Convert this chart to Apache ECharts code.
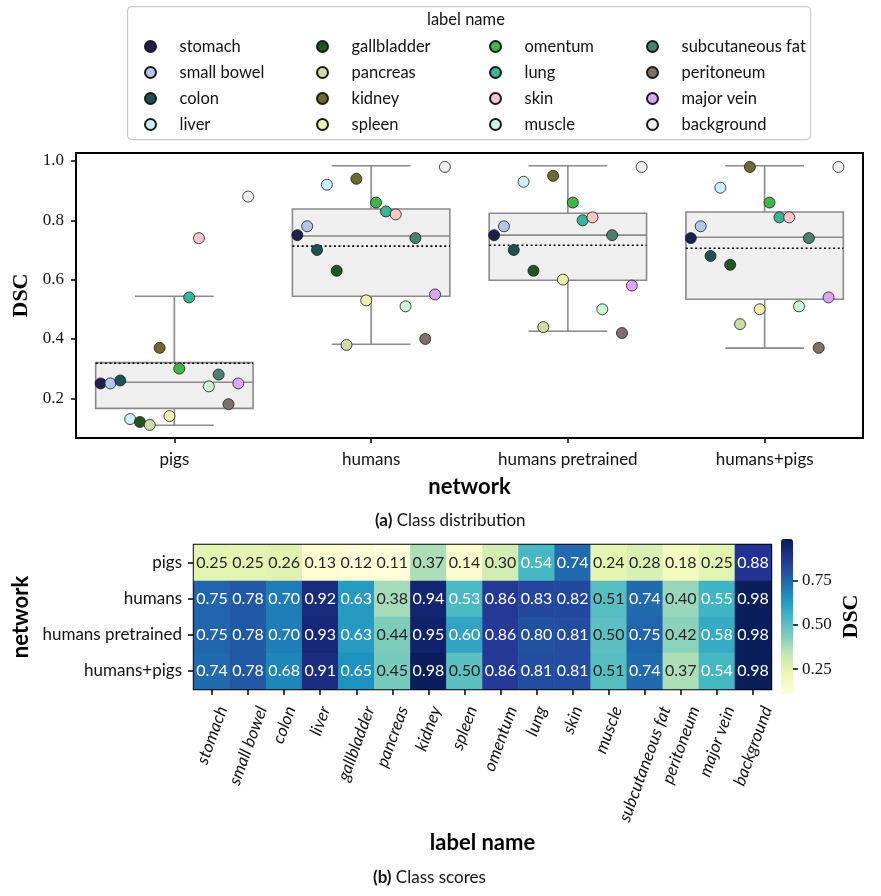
<!DOCTYPE html>
<html><head><meta charset="utf-8">
<script src="https://cdn.jsdelivr.net/npm/echarts@6/dist/echarts.min.js"></script>
<style>html,body{margin:0;padding:0;background:#fff}#c{width:881px;height:896px}</style>
</head><body><div id="c"></div>
<script>
const networks = ['pigs', 'humans', 'humans pretrained', 'humans+pigs'];
const labels = ['stomach', 'small bowel', 'colon', 'liver', 'gallbladder', 'pancreas', 'kidney', 'spleen',
  'omentum', 'lung', 'skin', 'muscle', 'subcutaneous fat', 'peritoneum', 'major vein', 'background'];
const labelColors = ['#1d1f4f', '#b3c6ea', '#1a5352', '#cbeefc', '#1f5722', '#cfdcaa', '#6b6a31', '#eeeeb0',
  '#40b54c', '#37b596', '#fbc6c6', '#cbf7d6', '#4b8070', '#80706a', '#d9a7ef', '#efefef'];
const dscPigs = [0.25, 0.25, 0.26, 0.13, 0.12, 0.11, 0.37, 0.14, 0.30, 0.54, 0.74, 0.24, 0.28, 0.18, 0.25, 0.88];
const dscHumans = [0.75, 0.78, 0.70, 0.92, 0.63, 0.38, 0.94, 0.53, 0.86, 0.83, 0.82, 0.51, 0.74, 0.40, 0.55, 0.98];
const dscHumansPretrained = [0.75, 0.78, 0.70, 0.93, 0.63, 0.44, 0.95, 0.60, 0.86, 0.80, 0.81, 0.50, 0.75, 0.42, 0.58, 0.98];
const dscHumansPigs = [0.74, 0.78, 0.68, 0.91, 0.65, 0.45, 0.98, 0.50, 0.86, 0.81, 0.81, 0.51, 0.74, 0.37, 0.54, 0.98];
const boxLow = [0.109, 0.382, 0.426, 0.369];
const boxQ1 = [0.166, 0.544, 0.598, 0.534];
const boxMedian = [0.254, 0.747, 0.750, 0.743];
const boxQ3 = [0.320, 0.838, 0.824, 0.828];
const boxHigh = [0.544, 0.984, 0.984, 0.984];
const boxMean = [0.318, 0.713, 0.716, 0.706];
const dscTicks = [0.2, 0.4, 0.6, 0.8, 1.0];
const colorbarTicks = [0.25, 0.5, 0.75];
const legendColumns = [
  ['stomach', 'small bowel', 'colon', 'liver'],
  ['gallbladder', 'pancreas', 'kidney', 'spleen'],
  ['omentum', 'lung', 'skin', 'muscle'],
  ['subcutaneous fat', 'peritoneum', 'major vein', 'background']
];

const SANS = 'Lato, "Noto Sans", sans-serif';
const SERIF = '"Liberation Serif", "DejaVu Serif", serif';
const dscByNetwork = [dscPigs, dscHumans, dscHumansPretrained, dscHumansPigs];
const ylgnbu = ['#ffffd9', '#edf8b1', '#c7e9b4', '#7fcdbb', '#41b6c4', '#1d91c0', '#225ea8', '#253494', '#081d58'];

// rotated tick labels of the heatmap: bounding box centred on the tick (matplotlib style)
const ROT_FONT = 'italic 17px Lato, "Noto Sans", sans-serif';
const measureCtx = document.createElement('canvas').getContext('2d');
measureCtx.font = ROT_FONT;
const ROT = 70 * Math.PI / 180;

const chart = echarts.init(document.getElementById('c'));

const series = [];
series.push({
  type: 'custom', name: 'box', xAxisIndex: 0, yAxisIndex: 0, z: 1, silent: true,
  data: networks.map((n, j) => [j, boxLow[j], boxQ1[j], boxMedian[j], boxQ3[j], boxHigh[j], boxMean[j]]),
  encode: { x: 0, y: [1, 2, 3, 4, 5, 6] },
  renderItem: function (params, api) {
    const j = api.value(0);
    const pt = v => api.coord([j, v]);
    const cx = pt(api.value(3))[0];
    const bw = api.size([1, 0])[0] * 0.8;
    const yL = pt(api.value(1))[1], yQ1 = pt(api.value(2))[1], yM = pt(api.value(3))[1];
    const yQ3 = pt(api.value(4))[1], yH = pt(api.value(5))[1], yMean = pt(api.value(6))[1];
    const grey = { stroke: '#8a8a8a', lineWidth: 1.6, fill: null };
    return {
      type: 'group', children: [
        { type: 'line', shape: { x1: cx, y1: yQ1, x2: cx, y2: yL }, style: grey },
        { type: 'line', shape: { x1: cx, y1: yQ3, x2: cx, y2: yH }, style: grey },
        { type: 'line', shape: { x1: cx - bw / 4, y1: yL, x2: cx + bw / 4, y2: yL }, style: grey },
        { type: 'line', shape: { x1: cx - bw / 4, y1: yH, x2: cx + bw / 4, y2: yH }, style: grey },
        { type: 'rect', shape: { x: cx - bw / 2, y: yQ3, width: bw, height: yQ1 - yQ3 }, style: { fill: '#efefef', stroke: '#8a8a8a', lineWidth: 1.6 } },
        { type: 'line', shape: { x1: cx - bw / 2, y1: yM, x2: cx + bw / 2, y2: yM }, style: grey },
        { type: 'line', shape: { x1: cx - bw / 2, y1: yMean, x2: cx + bw / 2, y2: yMean }, style: { stroke: '#000', lineWidth: 1.6, lineDash: [2, 2.6] } }
      ]
    };
  }
});

labels.forEach((lab, i) => {
  series.push({
    type: 'scatter', name: lab, xAxisIndex: 1, yAxisIndex: 0, z: 5,
    symbol: 'circle', symbolSize: 11,
    itemStyle: { color: labelColors[i], borderColor: '#1a1a1a', borderWidth: 0.8, opacity: 1 },
    data: dscByNetwork.map((row, j) => [j + (i - 7.5) * 0.05, row[i]])
  });
});

const heatData = [];
dscByNetwork.forEach((row, r) => row.forEach((v, c) => heatData.push({
  value: [c, r, v], label: { color: v >= 0.52 ? '#ffffff' : '#262626' }
})));
const heatIndex = series.length;
series.push({
  type: 'heatmap', xAxisIndex: 2, yAxisIndex: 1, data: heatData,
  label: { show: true, fontFamily: SANS, fontSize: 16, formatter: p => p.value[2].toFixed(2) },
  itemStyle: { borderWidth: 0 }, emphasis: { disabled: true }
});

// heatmap column labels, placed through the heatmap axes
series.push({
  type: 'custom', name: 'columnLabels', xAxisIndex: 2, yAxisIndex: 1, silent: true, clip: false, z: 3,
  data: labels.map((l, i) => [i, networks.length - 1]),
  encode: { x: 0, y: 1 },
  renderItem: function (params, api) {
    const i = api.value(0);
    const c = api.coord([i, api.value(1)]);
    const yBottom = c[1] + api.size([0, 1])[1] / 2;
    const text = labels[i];
    const L = measureCtx.measureText(text).width;
    return {
      type: 'text', x: c[0] + 0.5 * Math.cos(ROT) * L, y: yBottom + 18, rotation: ROT,
      style: { text: text, font: ROT_FONT, fill: '#111', align: 'right', verticalAlign: 'middle' }
    };
  }
});

const legends = legendColumns.map((col, k) => ({
  data: col, orient: 'vertical', left: [150, 322, 495, 652][k] - 11, top: 33,
  icon: 'circle', itemWidth: 48, itemHeight: 11, itemGap: 9,
  textStyle: { fontFamily: SANS, fontSize: 16.5, color: '#111', lineHeight: 16 },
  selectedMode: false
}));

chart.setOption({
  animation: false,
  textStyle: { fontFamily: SANS },
  grid: [
    { left: 76, top: 153, width: 787, height: 285, show: true, borderColor: '#000', borderWidth: 2, backgroundColor: 'transparent' },
    { left: 194, top: 545, width: 577, height: 144, show: true, borderColor: '#000', borderWidth: 2.4, backgroundColor: 'transparent' },
    { left: 781, top: 539, width: 12, height: 155 }
  ],
  xAxis: [
    { type: 'category', gridIndex: 0, data: networks, boundaryGap: true,
      axisLine: { show: true, onZero: false, lineStyle: { color: '#000', width: 2 } },
      axisTick: { show: true, alignWithLabel: true, length: 5, lineStyle: { color: '#000', width: 1.5 } },
      axisLabel: { fontFamily: SANS, fontSize: 17, color: '#111', margin: 13 },
      name: 'network', nameLocation: 'middle', nameGap: 38,
      nameTextStyle: { fontFamily: SANS, fontSize: 22, fontWeight: 'bold', color: '#000' } },
    { type: 'value', gridIndex: 0, min: -0.5, max: 3.5, show: false },
    { type: 'category', gridIndex: 1, data: labels, boundaryGap: true,
      axisLine: { show: true, onZero: false, lineStyle: { color: '#000', width: 1.5 } },
      axisTick: { show: true, alignWithLabel: true, length: 6, interval: 0, lineStyle: { color: '#000', width: 1.5 } },
      axisLabel: { show: false, interval: 0 },
      name: 'label name', nameLocation: 'middle', nameGap: 143,
      nameTextStyle: { fontFamily: SANS, fontSize: 22, fontWeight: 'bold', color: '#000' } },
    { type: 'value', gridIndex: 2, show: false, min: 0, max: 1 }
  ],
  yAxis: [
    { type: 'value', gridIndex: 0, min: 0.066, max: 1.027,
      splitLine: { show: false },
      axisLine: { show: true, onZero: false, lineStyle: { color: '#000', width: 2 } },
      axisTick: { show: true, length: 5, customValues: dscTicks, lineStyle: { color: '#000', width: 1.5 } },
      axisLabel: { fontFamily: SERIF, fontSize: 17, color: '#111', margin: 12, customValues: dscTicks, formatter: v => v.toFixed(1) },
      name: 'DSC', nameLocation: 'middle', nameGap: 40, nameRotate: 90,
      nameTextStyle: { fontFamily: SERIF, fontSize: 22, fontWeight: 'bold', color: '#000' } },
    { type: 'category', gridIndex: 1, data: networks, inverse: true, boundaryGap: true,
      axisLine: { show: true, onZero: false, lineStyle: { color: '#000', width: 1.5 } },
      axisTick: { show: true, alignWithLabel: true, length: 6, lineStyle: { color: '#000', width: 1.5 } },
      axisLabel: { fontFamily: SANS, fontSize: 17, color: '#111', margin: 12 },
      name: 'network', nameLocation: 'middle', nameGap: 156, nameRotate: 90,
      nameTextStyle: { fontFamily: SANS, fontSize: 22, fontWeight: 'bold', color: '#000' } },
    { type: 'value', gridIndex: 2, position: 'right', min: 0.11, max: 0.985,
      splitLine: { show: false },
      axisLine: { show: false, onZero: false },
      axisTick: { show: true, length: 5, customValues: colorbarTicks, lineStyle: { color: '#000', width: 1.5 } },
      axisLabel: { fontFamily: SERIF, fontSize: 17, color: '#111', margin: 9, customValues: colorbarTicks, formatter: v => v.toFixed(2) },
      name: 'DSC', nameLocation: 'middle', nameGap: 47, nameRotate: 90,
      nameTextStyle: { fontFamily: SERIF, fontSize: 22, fontWeight: 'bold', color: '#000' } }
  ],
  visualMap: {
    type: 'continuous', seriesIndex: heatIndex, min: 0.11, max: 0.985,
    inRange: { color: ylgnbu }, orient: 'vertical', left: 781, top: 539,
    itemWidth: 12, itemHeight: 155, padding: 0, calculable: false, text: null, hoverLink: false
  },
  legend: legends,
  graphic: [
    { type: 'rect', left: 127, top: 6, shape: { width: 683, height: 133, r: 4 }, style: { fill: '#fff', stroke: '#cccccc', lineWidth: 1.2 }, z: -1, silent: true },
    { type: 'text', left: 427, top: 11, style: { text: 'label name', font: '16.5px ' + SANS, fill: '#111' } },
    { type: 'text', left: 375, top: 512, style: { text: '{b|(a)} Class distribution', rich: { b: { fontWeight: 'bold', fontSize: 17, fontFamily: SANS } }, font: '17px ' + SANS, fill: '#111' } },
    { type: 'text', left: 373, top: 869, style: { text: '{b|(b)} Class scores', rich: { b: { fontWeight: 'bold', fontSize: 17, fontFamily: SANS } }, font: '17px ' + SANS, fill: '#111' } }
  ],
  series: series
});
</script></body></html>
